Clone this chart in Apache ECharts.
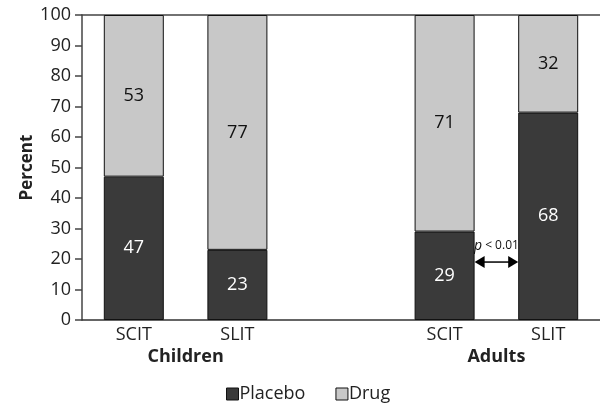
<!DOCTYPE html>
<html>
<head>
<meta charset="utf-8">
<script src="https://cdn.jsdelivr.net/npm/echarts@6/dist/echarts.min.js"></script>
<style>
html, body { margin: 0; padding: 0; background: #fff; }
#main { width: 600px; height: 407px; }
</style>
</head>
<body>
<div id="main"></div>
<script>
var categories = ["SCIT", "SLIT", "", "SCIT", "SLIT"];
var groups = ["Children", "Adults"];
var groupIdx = [[0, 1], [3, 4]];
var placebo = [47, 23, null, 29, 68];
var drug = [53, 77, null, 71, 32];
var yTicks = [0, 10, 20, 30, 40, 50, 60, 70, 80, 90, 100];
var pNote = { from: 3, to: 4, y: 19, text: "p", rest: " < 0.01" };

var font = "'Open Sans', 'Noto Sans', sans-serif";
var chart = echarts.init(document.getElementById("main"), null, { renderer: "canvas" });

var opt = {
	animation: false,
	grid: { left: 82, right: 0, top: 15, bottom: 87 },
	legend: {
		bottom: -1,
		left: 221,
		itemWidth: 12,
		itemHeight: 12,
		itemGap: 30,
		icon: "rect",
		itemStyle: { borderColor: "#111", borderWidth: 1 },
		textStyle: { fontFamily: font, fontSize: 18, color: "#222", padding: [0, 0, 0, -4] },
		data: ["Placebo", "Drug"]
	},
	xAxis: [
		{
			type: "category",
			data: categories,
			axisLine: { lineStyle: { color: "#333", width: 1.5 } },
			axisTick: { show: false },
			axisLabel: { fontFamily: font, fontSize: 18, color: "#222", margin: 6 }
		},
		{
			type: "category",
			position: "top",
			data: categories,
			axisLine: { lineStyle: { color: "#444", width: 1.5 } },
			axisTick: { show: false },
			axisLabel: { show: false }
		}
	],
	yAxis: {
		type: "value",
		min: 0,
		max: 100,
		interval: 10,
		name: "Percent",
		nameLocation: "middle",
		nameGap: 46,
		nameMoveOverlap: false,
		nameTextStyle: { fontFamily: font, fontSize: 17, fontWeight: "bold", color: "#222" },
		axisLine: { show: true, lineStyle: { color: "#444", width: 1.5 } },
		axisTick: { show: true, length: 7, lineStyle: { color: "#444", width: 1.5 } },
		axisLabel: {
			fontFamily: font, fontSize: 18, color: "#222", margin: 11,
			formatter: function(v) { return yTicks.indexOf(v) >= 0 ? String(v) : ""; }
		},
		splitLine: { show: false }
	},
	series: [
		{
			name: "Placebo",
			type: "bar",
			stack: "a",
			barWidth: 60,
			data: placebo,
			itemStyle: { color: "#3a3a3a", borderColor: "#111", borderWidth: 1 },
			label: { show: true, position: "inside", fontFamily: font, fontSize: 18, color: "#fff" }
		},
		{
			name: "Drug",
			type: "bar",
			stack: "a",
			barWidth: 60,
			data: drug,
			itemStyle: { color: "#c8c8c8", borderColor: "#111", borderWidth: 1 },
			label: { show: true, position: "inside", fontFamily: font, fontSize: 18, color: "#111" }
		}
	]
};

chart.setOption(opt);

// group labels and p-value arrow placed through the axis scales
var gfx = [];
groups.forEach(function(g, i) {
	var a = chart.convertToPixel({ xAxisIndex: 0 }, groupIdx[i][0]),
		b = chart.convertToPixel({ xAxisIndex: 0 }, groupIdx[i][1]),
		y0 = chart.convertToPixel({ yAxisIndex: 0 }, 0);
	gfx.push({
		type: "text",
		x: (a + b) / 2,
		y: y0 + 28,
		style: { text: g, fontFamily: font, fontSize: 18, fontWeight: "bold", fill: "#222", align: "center", verticalAlign: "top" }
	});
});

var half = 30,
	x1 = chart.convertToPixel({ xAxisIndex: 0 }, pNote.from) + half,
	x2 = chart.convertToPixel({ xAxisIndex: 0 }, pNote.to) - half,
	ay = chart.convertToPixel({ yAxisIndex: 0 }, pNote.y),
	ah = 9, aw = 6;
gfx.push({
	type: "line",
	shape: { x1: x1 + ah, y1: ay, x2: x2 - ah, y2: ay },
	style: { stroke: "#000", lineWidth: 1.5 }
});
gfx.push({
	type: "polygon",
	shape: { points: [[x1, ay], [x1 + ah + 1, ay - aw], [x1 + ah + 1, ay + aw]] },
	style: { fill: "#000" }
});
gfx.push({
	type: "polygon",
	shape: { points: [[x2, ay], [x2 - ah - 1, ay - aw], [x2 - ah - 1, ay + aw]] },
	style: { fill: "#000" }
});
gfx.push({
	type: "text",
	x: (x1 + x2) / 2,
	y: ay - 9,
	style: {
		text: "{i|" + pNote.text + "}{r|" + pNote.rest + "}",
		align: "center",
		verticalAlign: "bottom",
		rich: {
			i: { fontFamily: font, fontSize: 14, fontStyle: "italic", fill: "#111" },
			r: { fontFamily: "'Liberation Sans Narrow', " + font, fontSize: 12, fill: "#111" }
		}
	}
});

chart.setOption({ graphic: gfx });
</script>
</body>
</html>
